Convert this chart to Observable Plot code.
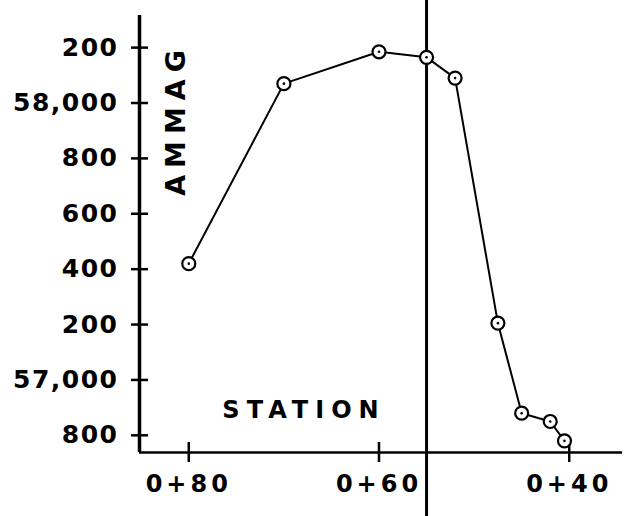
<!DOCTYPE html>
<html>
<head>
<meta charset="utf-8">
<script src="https://cdn.jsdelivr.net/npm/d3@7"></script>
<script src="https://cdn.jsdelivr.net/npm/@observablehq/plot@0.6"></script>
<style>
  html, body { margin: 0; padding: 0; background: #fff; }
  #chart svg { display: block; }
  g[aria-label="y-axis tick label"] text { letter-spacing: 1.5px; }
  g[aria-label="x-axis tick label"] text { letter-spacing: 4px; }
  g[aria-label="text"] text { letter-spacing: 7px; }
</style>
</head>
<body>
<div id="chart"></div>
<script>
// Data
const stations = [80, 70, 60, 55, 52, 47.5, 45, 42, 40.5];
const gamma = [57420, 58070, 58185, 58165, 58090, 57205, 56880, 56850, 56780];

const xTicks = [80, 60, 40];
const xTickLabels = ["0+80", "0+60", "0+40"];
const yTicks = [56800, 57000, 57200, 57400, 57600, 57800, 58000, 58200];
const yTickLabels = ["800", "57,000", "200", "400", "600", "800", "58,000", "200"];

const xLabel = "STATION";
const yLabel = "GAMMA";
const markerStation = [55];

const xDomain = [85.18, 34.4];
const yDomain = [56738, 58316];

const rows = stations.map((s, i) => ({station: s, gamma: gamma[i]}));

const chart = Plot.plot({
  width: 628,
  height: 516,
  marginLeft: 139,
  marginRight: 6,
  marginTop: 15,
  marginBottom: 64,
  style: {fontFamily: "DejaVu Sans", background: "white", color: "black"},
  x: {domain: xDomain},
  y: {domain: yDomain},
  marks: [
    Plot.axisY({
      ticks: yTicks,
      tickFormat: d => yTickLabels[yTicks.indexOf(d)],
      tickSize: 17, tickPadding: 13, dx: 9,
      fontSize: 25, fontWeight: "bold", strokeWidth: 2.5,
      label: null
    }),
    Plot.axisX({
      ticks: xTicks,
      tickFormat: d => xTickLabels[xTicks.indexOf(d)],
      tickSize: 20, tickPadding: 12, dy: -10,
      fontSize: 24, fontWeight: "bold", strokeWidth: 2.5,
      label: null
    }),
    Plot.ruleX([xDomain[0]], {strokeWidth: 3.5}),
    Plot.ruleY([yDomain[0]], {strokeWidth: 2.5}),
    Plot.ruleX(markerStation, {strokeWidth: 3, insetTop: -15, insetBottom: -64}),
    Plot.line(rows, {x: "station", y: "gamma", stroke: "black", strokeWidth: 2}),
    Plot.dot(rows, {x: "station", y: "gamma", r: 6.5, fill: "white", stroke: "black", strokeWidth: 2.2}),
    Plot.dot(rows, {x: "station", y: "gamma", r: 1.3, fill: "black"}),
    Plot.text([xLabel], {frameAnchor: "bottom", dx: -77, dy: -42, textAnchor: "middle", lineAnchor: "middle", fontSize: 24, fontWeight: "bold"}),
    Plot.text([yLabel], {frameAnchor: "top-left", dx: 37, dy: 104, rotate: -90, textAnchor: "middle", lineAnchor: "middle", fontSize: 27, fontWeight: "bold"})
  ]
});

// Letters of the hand-lettered y label are turned to the left yet read top-to-bottom
chart.querySelectorAll("text").forEach(t => {
  if (t.textContent === yLabel) {
    t.style.direction = "rtl";
    t.style.unicodeBidi = "bidi-override";
    t.style.letterSpacing = "7px";
  }
});

document.getElementById("chart").appendChild(chart);
</script>
</body>
</html>
